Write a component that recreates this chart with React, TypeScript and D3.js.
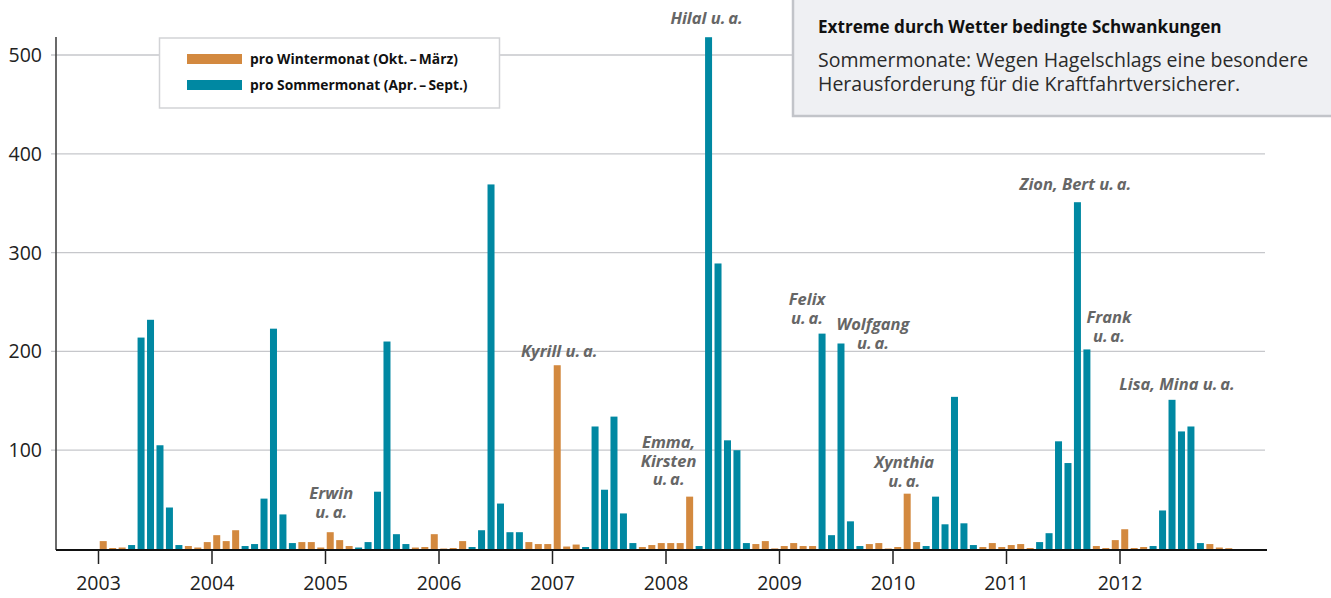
import React, { useEffect, useRef } from 'react';
import * as d3 from 'd3';

const years = [2003, 2004, 2005, 2006, 2007, 2008, 2009, 2010, 2011, 2012];

// monthly values, Jan..Dec per year
const values2003 = [8, 1, 1.5, 4, 214, 232, 105, 42, 4, 3, 1.5, 7];
const values2004 = [14, 8, 19, 3, 5, 51, 223, 35, 6, 7, 7, 1.5];
const values2005 = [17, 9, 3, 1.5, 7, 58, 210, 15, 5, 1.5, 2, 15];
const values2006 = [0.5, 1, 8, 2, 19, 369, 46, 17, 17, 7, 5, 5];
const values2007 = [186, 2.5, 4.5, 2, 124, 60, 134, 36, 6, 2, 4, 6];
const values2008 = [6, 6, 53, 3, 518, 289, 110, 100, 6, 5, 8, 0.6];
const values2009 = [3, 6, 3, 3, 218, 14, 208, 28, 3, 5, 6, 0.5];
const values2010 = [2, 56, 7, 3, 53, 25, 154, 26, 4, 2, 6, 2];
const values2011 = [4, 5, 1, 7, 16, 109, 87, 351, 202, 3, 1, 9];
const values2012 = [20, 1, 2, 3, 39, 151, 119, 124, 6, 5, 1.5, 0.8];

const valuesByYear = [values2003, values2004, values2005, values2006, values2007,
  values2008, values2009, values2010, values2011, values2012];

// W = winter series, S = summer series (as coloured in the source)
const seasons = ['WWWSSSSSSWWW', 'WWWSSSSSSWWW', 'WWWSSSSSSWWW', 'WWWSSSSSSWWW', 'WWWSSSSSSWWW',
  'WWWSSSSSSWWW', 'WWWWSSSSSWWW', 'WWWSSSSSSWWW', 'WWWSSSSSSWWW', 'WWWSSSSSSWWW'];

const yTicks = [100, 200, 300, 400, 500];

const legendLabels = ['pro Wintermonat (Okt.\u2009\u2013\u2009März)', 'pro Sommermonat (Apr.\u2009\u2013\u2009Sept.)'];

const infoTitle = 'Extreme durch Wetter bedingte Schwankungen';
const infoLines = ['Sommermonate: Wegen Hagelschlags eine besondere', 'Herausforderung für die Kraftfahrtversicherer.'];

const ua = 'u.\u2009a.';
// month index anchor, horizontal shift, baseline of first line
const annotations = [
  { month: 64, dx: -2, y: 24, lines: ['Hilal ' + ua] },
  { month: 48, dx: 2, y: 357, lines: ['Kyrill ' + ua] },
  { month: 62, dx: -21, y: 448, lines: ['Emma,', 'Kirsten', ua] },
  { month: 24, dx: 1, y: 499, lines: ['Erwin', ua] },
  { month: 76, dx: -15, y: 305, lines: ['Felix', ua] },
  { month: 78, dx: 32, y: 330, lines: ['Wolfgang', ua] },
  { month: 85, dx: -3, y: 468, lines: ['Xynthia', ua] },
  { month: 103, dx: -2, y: 190, lines: ['Zion, Bert ' + ua] },
  { month: 104, dx: 22, y: 323, lines: ['Frank', ua] },
  { month: 113, dx: 5, y: 390, lines: ['Lisa, Mina ' + ua] },
];

const WINTER = '#d3893f';
const SUMMER = '#0088a2';
const FONT = '"Open Sans", sans-serif';

const App: React.FC = () => {
  const chartRef = useRef<SVGSVGElement | null>(null);

  useEffect(() => {
    document.body.style.margin = '0';
    if (chartRef.current) {
      drawChart();
    }
  }, []);

  const drawChart = () => {
    const svg = d3.select(chartRef.current);
    svg.selectAll('*').remove();

    const data = valuesByYear.flatMap((vals, yi) =>
      vals.map((v, m) => ({ idx: yi * 12 + m, value: v, season: seasons[yi][m] })));

    const x = d3.scaleBand<number>()
      .domain(d3.range(data.length))
      .range([98.5, 1233.5])
      .paddingInner(0.26)
      .paddingOuter(0.13);

    const y = d3.scaleLinear().domain([0, 500]).range([549, 55]);

    const tickX = (i: number) => (x(i) || 0) - x.step() * 0.13;
    const baseY = 550;

    // grid
    svg.append('g')
      .selectAll('line')
      .data(yTicks)
      .enter().append('line')
      .attr('x1', 51).attr('x2', 1265)
      .attr('y1', d => y(d)).attr('y2', d => y(d))
      .attr('stroke', '#c6c7cb')
      .attr('stroke-width', 1.3);

    svg.append('g')
      .selectAll('text')
      .data(yTicks)
      .enter().append('text')
      .attr('x', 42)
      .attr('y', d => y(d) + 7)
      .attr('text-anchor', 'end')
      .attr('font-family', FONT)
      .attr('font-size', 19.5)
      .attr('fill', '#222')
      .text(d => d);

    // legend
    const legend = svg.append('g');
    legend.append('rect')
      .attr('x', 159.5).attr('y', 38)
      .attr('width', 340).attr('height', 70)
      .attr('fill', '#fff')
      .attr('stroke', '#d2d3d6')
      .attr('stroke-width', 1.5);
    [WINTER, SUMMER].forEach((c, i) => {
      legend.append('rect')
        .attr('x', 187).attr('y', 54 + i * 26)
        .attr('width', 55).attr('height', 10)
        .attr('fill', c);
      legend.append('text')
        .attr('x', 250).attr('y', 64 + i * 26)
        .attr('font-family', FONT)
        .attr('font-weight', 700)
        .attr('font-size', 13.8)
        .attr('fill', '#111')
        .text(legendLabels[i]);
    });

    // info box
    const info = svg.append('g');
    info.append('rect')
      .attr('x', 793).attr('y', -3)
      .attr('width', 560).attr('height', 119)
      .attr('fill', '#eff0f3')
      .attr('stroke', '#c2c4c9')
      .attr('stroke-width', 2.5);
    info.append('text')
      .attr('x', 818).attr('y', 33)
      .attr('font-family', FONT)
      .attr('font-weight', 700)
      .attr('font-size', 17.1)
      .attr('fill', '#111')
      .text(infoTitle);
    infoLines.forEach((l, i) => {
      info.append('text')
        .attr('x', 818).attr('y', 67 + i * 24)
        .attr('font-family', FONT)
        .attr('font-size', 19.5)
        .attr('fill', '#2a2a2a')
        .text(l);
    });

    // bars
    svg.append('g')
      .selectAll('rect')
      .data(data)
      .enter().append('rect')
      .attr('x', d => x(d.idx) || 0)
      .attr('y', d => y(d.value))
      .attr('width', x.bandwidth())
      .attr('height', d => baseY - y(d.value))
      .attr('fill', d => d.season === 'S' ? SUMMER : WINTER);

    // axes
    svg.append('line')
      .attr('x1', 56).attr('x2', 56)
      .attr('y1', 37).attr('y2', baseY)
      .attr('stroke', '#444')
      .attr('stroke-width', 1.6);
    svg.append('line')
      .attr('x1', 56).attr('x2', 1267)
      .attr('y1', baseY).attr('y2', baseY)
      .attr('stroke', '#111')
      .attr('stroke-width', 1.8);

    const xTicks = svg.append('g')
      .selectAll('g')
      .data(years)
      .enter().append('g')
      .attr('transform', (d, i) => `translate(${tickX(i * 12)},0)`);
    xTicks.append('line')
      .attr('y1', baseY).attr('y2', 564)
      .attr('stroke', '#222')
      .attr('stroke-width', 1.5);
    xTicks.append('text')
      .attr('y', 590)
      .attr('text-anchor', 'middle')
      .attr('font-family', FONT)
      .attr('font-size', 19.5)
      .attr('fill', '#222')
      .text(d => d);

    // storm annotations
    annotations.forEach(a => {
      const cx = (x(a.month) || 0) + x.bandwidth() / 2 + a.dx;
      const t = svg.append('text')
        .attr('text-anchor', 'middle')
        .attr('font-family', FONT)
        .attr('font-weight', 700)
        .attr('font-style', 'italic')
        .attr('font-size', 16.5)
        .attr('fill', '#666');
      a.lines.forEach((l, i) => {
        t.append('tspan')
          .attr('x', cx)
          .attr('y', a.y + i * 18.5)
          .text(l);
      });
    });
  };

  return (
    <svg ref={chartRef} width={1331} height={598} style={{ display: 'block' }}></svg>
  );
};

export default App;
